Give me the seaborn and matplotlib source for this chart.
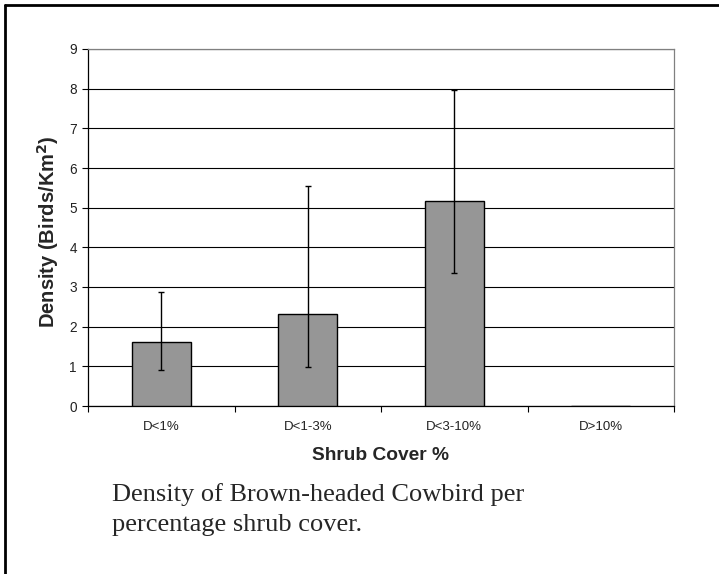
import matplotlib
matplotlib.use("Agg")
import matplotlib.pyplot as plt
from matplotlib.lines import Line2D
import seaborn as sns
import pandas as pd
import numpy as np

categories = ["D<1%", "D<1-3%", "D<3-10%", "D>10%"]
density = [1.61, 2.32, 5.17, 0.0]
err_low = [0.91, 0.98, 3.35, np.nan]
err_high = [2.87, 5.55, 7.97, np.nan]
y_ticks = [0, 1, 2, 3, 4, 5, 6, 7, 8, 9]

sns.set_theme(style="white")
plt.rcParams['font.family'] = ['Liberation Sans', 'DejaVu Sans']

fig = plt.figure(figsize=(7.19, 5.74), dpi=100)
ax = fig.add_axes([88/719, 1-406/574, (674-88)/719, (406-49)/574])

df = pd.DataFrame({"cat": categories, "val": density})
sns.barplot(data=df, x="cat", y="val", ax=ax, color="#969696", saturation=1,
            edgecolor="black", linewidth=1.0, width=0.40, zorder=3)

# error bars
xs = np.arange(len(categories))
vals = np.array(density)
lo = vals - np.array(err_low)
hi = np.array(err_high) - vals
mask = ~np.isnan(lo)
ax.errorbar(xs[mask], vals[mask], yerr=[lo[mask], hi[mask]], fmt="none",
            ecolor="black", elinewidth=1.0, capsize=1.9, capthick=1.0, zorder=4)

ax.set_xlim(-0.5, 3.5)
ax.set_ylim(0, 9)
ax.set_yticks(y_ticks)
ax.set_yticklabels([str(t) for t in y_ticks], fontsize=9.8, color="#222222")
ax.yaxis.grid(True, color="black", linewidth=0.8, zorder=0)
ax.set_axisbelow(True)

ax.set_xticks(np.arange(-0.5, 4.0, 1.0))
ax.set_xticklabels([""] * 5)
ax.set_xticks(xs, minor=True)
ax.set_xticklabels(categories, minor=True, fontsize=9.5, color="#222222")
ax.tick_params(axis="x", which="minor", length=0, pad=11)
ax.tick_params(axis="x", which="major", direction="out", length=4, width=0.8, color="black", bottom=True)
ax.tick_params(axis="y", direction="out", length=4, width=0.8, color="black", left=True, pad=4)

for s in ["left", "bottom"]:
    ax.spines[s].set_color("black")
    ax.spines[s].set_linewidth(0.9)
for s in ["top", "right"]:
    ax.spines[s].set_color("#808080")
    ax.spines[s].set_linewidth(0.9)
    ax.spines[s].set_visible(True)

ax.set_xlabel("Shrub Cover %", fontsize=13.8, fontweight="bold")
ax.xaxis.set_label_coords(0.5, (406-455)/357)
ax.xaxis.label.set_va("center")
ax.set_ylabel("Density (Birds/Km$^\\mathbf{2}$)", fontsize=14.5, fontweight="bold")
ax.yaxis.set_label_coords((48-88)/586, (406-232)/357)
ax.yaxis.label.set_va("center")

serif = ["Liberation Serif", "DejaVu Serif"]
fig.text(112/719, 1-495/574, "Density of Brown-headed Cowbird per",
         fontsize=19, family=serif, ha="left", va="center")
fig.text(112/719, 1-525/574, "percentage shrub cover.",
         fontsize=19, family=serif, ha="left", va="center")

# outer frame (top and left edges)
fig.add_artist(Line2D([5/719, 1.0], [1-5/574, 1-5/574], color="black", linewidth=2, transform=fig.transFigure))
fig.add_artist(Line2D([5/719, 5/719], [0, 1-5/574], color="black", linewidth=2, transform=fig.transFigure))

fig.savefig("out.png", dpi=100)
